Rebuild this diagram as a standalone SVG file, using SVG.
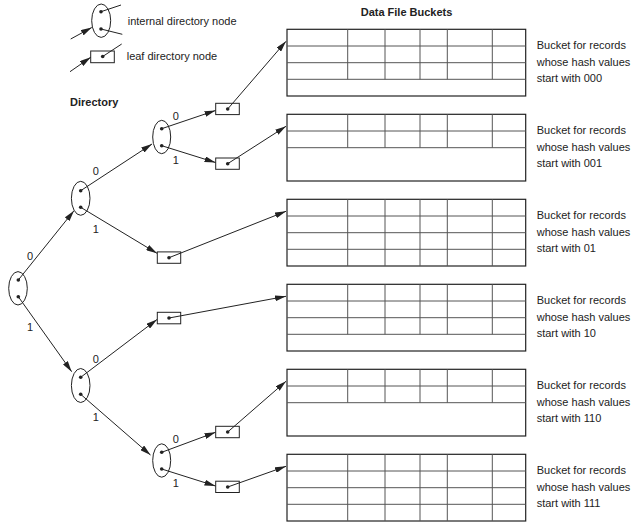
<svg xmlns="http://www.w3.org/2000/svg" width="636" height="526" viewBox="0 0 636 526">
<defs>
<style>
text{font-family:"Liberation Sans",Arial,sans-serif;font-size:11px;fill:#222}
.b{font-weight:bold}
.lbl{text-anchor:middle}
.node{fill:none;stroke:#222;stroke-width:1}
.dot{fill:#222}
.edge{stroke:#222;stroke-width:1;fill:none}
.arr{marker-end:url(#ah)}
.outer{fill:none;stroke:#222;stroke-width:1.2}
.grid{stroke:#555;stroke-width:1}
</style>
<marker id="ah" viewBox="0 0 11 6" refX="11" refY="3" markerWidth="11" markerHeight="6" markerUnits="userSpaceOnUse" orient="auto">
<path d="M0,0 L11,3 L0,6 z" fill="#222"/>
</marker>
</defs>
<rect width="636" height="526" fill="#fff"/>

<g id="legend-internal">
<ellipse class="node" cx="101.2" cy="20.7" rx="9.5" ry="16.7"/>
<circle class="dot" cx="101" cy="11.7" r="1.8"/>
<circle class="dot" cx="101" cy="29" r="1.8"/>
<line class="edge" x1="101" y1="11.7" x2="121" y2="5"/>
<line class="edge" x1="101" y1="29" x2="122.3" y2="34.3"/>
<line class="edge arr" x1="70.7" y1="39" x2="91.8" y2="27.5"/>
<text x="127.7" y="25">internal directory node</text>
</g>
<g id="legend-leaf">
<rect class="node" x="90.7" y="51" width="23.6" height="11.7"/>
<circle class="dot" cx="102.7" cy="56.5" r="1.8"/>
<line class="edge" x1="102.7" y1="56.5" x2="121.7" y2="44"/>
<line class="edge arr" x1="70" y1="71.7" x2="90.7" y2="57.3"/>
<text x="126.7" y="60">leaf directory node</text>
</g>

<text class="b" x="70" y="106">Directory</text>
<text class="b" x="360.7" y="16">Data File Buckets</text>

<g id="connectors">
<line class="edge arr" x1="18.3" y1="280" x2="74" y2="210.7"/>
<line class="edge arr" x1="18.3" y1="296.7" x2="71.7" y2="371.7"/>
<line class="edge arr" x1="80.7" y1="190.7" x2="152" y2="144"/>
<line class="edge arr" x1="80.7" y1="207.3" x2="157" y2="253.3"/>
<line class="edge arr" x1="80.7" y1="377.3" x2="157" y2="319.5"/>
<line class="edge arr" x1="80.7" y1="394.3" x2="150.5" y2="455"/>
<line class="edge arr" x1="161.7" y1="128.7" x2="215.5" y2="110.5"/>
<line class="edge arr" x1="161.7" y1="145.7" x2="215.5" y2="162.5"/>
<line class="edge arr" x1="161.7" y1="452.3" x2="215.5" y2="432.3"/>
<line class="edge arr" x1="161.7" y1="469" x2="215.5" y2="486"/>
<line class="edge arr" x1="227.7" y1="109" x2="286" y2="41.3"/>
<line class="edge arr" x1="227.7" y1="163.7" x2="286" y2="126.3"/>
<line class="edge arr" x1="169" y1="257.7" x2="286" y2="211.3"/>
<line class="edge arr" x1="169" y1="318" x2="286" y2="296.3"/>
<line class="edge arr" x1="227.7" y1="432" x2="286" y2="381.3"/>
<line class="edge arr" x1="227.7" y1="487" x2="286" y2="466.3"/>
</g>

<g id="edge-labels">
<text class="lbl" x="30" y="260">0</text>
<text class="lbl" x="30" y="331">1</text>
<text class="lbl" x="95.7" y="175">0</text>
<text class="lbl" x="95.7" y="232.5">1</text>
<text class="lbl" x="95.7" y="362.5">0</text>
<text class="lbl" x="95.7" y="421">1</text>
<text class="lbl" x="175.7" y="120">0</text>
<text class="lbl" x="175.7" y="163.5">1</text>
<text class="lbl" x="175.7" y="443">0</text>
<text class="lbl" x="175.7" y="486.5">1</text>
</g>

<g id="n-root">
<ellipse class="node" cx="18" cy="288.3" rx="9.3" ry="16.7"/>
<circle class="dot" cx="18.3" cy="280" r="1.8"/>
<circle class="dot" cx="18.3" cy="296.7" r="1.8"/>
</g>
<g id="n-0">
<ellipse class="node" cx="80.7" cy="198.3" rx="9.3" ry="17"/>
<circle class="dot" cx="80.7" cy="190.7" r="1.8"/>
<circle class="dot" cx="80.7" cy="207.3" r="1.8"/>
</g>
<g id="n-1">
<ellipse class="node" cx="80.7" cy="385.5" rx="9.3" ry="17"/>
<circle class="dot" cx="80.7" cy="377.3" r="1.8"/>
<circle class="dot" cx="80.7" cy="394.3" r="1.8"/>
</g>
<g id="n-00">
<ellipse class="node" cx="161.7" cy="137" rx="9" ry="16.7"/>
<circle class="dot" cx="161.7" cy="128.7" r="1.8"/>
<circle class="dot" cx="161.7" cy="145.7" r="1.8"/>
</g>
<g id="n-11">
<ellipse class="node" cx="161.7" cy="460.5" rx="9" ry="16.7"/>
<circle class="dot" cx="161.7" cy="452.3" r="1.8"/>
<circle class="dot" cx="161.7" cy="469" r="1.8"/>
</g>

<g id="leaf-000">
<rect class="node" x="215.7" y="103.3" width="23.6" height="11.3"/>
<circle class="dot" cx="227.7" cy="109" r="1.8"/>
</g>
<g id="leaf-001">
<rect class="node" x="215.7" y="158" width="23.6" height="11.3"/>
<circle class="dot" cx="227.7" cy="163.7" r="1.8"/>
</g>
<g id="leaf-01">
<rect class="node" x="157.3" y="251.9" width="23.4" height="11.4"/>
<circle class="dot" cx="169" cy="257.7" r="1.8"/>
</g>
<g id="leaf-10">
<rect class="node" x="157.3" y="312.3" width="23.4" height="11.5"/>
<circle class="dot" cx="169" cy="318" r="1.8"/>
</g>
<g id="leaf-110">
<rect class="node" x="215.7" y="426.3" width="23.6" height="11.4"/>
<circle class="dot" cx="227.7" cy="432" r="1.8"/>
</g>
<g id="leaf-111">
<rect class="node" x="215.7" y="481.2" width="23.6" height="11.3"/>
<circle class="dot" cx="227.7" cy="487" r="1.8"/>
</g>

<g id="bucket-000">
<rect class="outer" x="287" y="29.3" width="238.7" height="66.7"/>
<path class="grid" d="M287,46 H525.7 M287,62.7 H525.7 M287,79.3 H525.7 M347.7,29.3 V79.3 M385,29.3 V79.3 M420,29.3 V79.3 M447.3,29.3 V79.3 M492.3,29.3 V79.3"/>
<text x="536.7" y="49.3">Bucket for records</text>
<text x="536.7" y="65.5">whose hash values</text>
<text x="536.7" y="81.7">start with 000</text>
</g>
<g id="bucket-001">
<rect class="outer" x="287" y="114.3" width="238.7" height="66.7"/>
<path class="grid" d="M287,131 H525.7 M287,147.7 H525.7 M347.7,114.3 V147.7 M385,114.3 V147.7 M420,114.3 V147.7 M447.3,114.3 V147.7 M492.3,114.3 V147.7"/>
<text x="536.7" y="134.3">Bucket for records</text>
<text x="536.7" y="150.5">whose hash values</text>
<text x="536.7" y="166.7">start with 001</text>
</g>
<g id="bucket-01">
<rect class="outer" x="287" y="199.3" width="238.7" height="66.7"/>
<path class="grid" d="M287,216 H525.7 M287,232.7 H525.7 M287,249.3 H525.7 M347.7,199.3 V266 M385,199.3 V266 M420,199.3 V266 M447.3,199.3 V266 M492.3,199.3 V266"/>
<text x="536.7" y="219.3">Bucket for records</text>
<text x="536.7" y="235.5">whose hash values</text>
<text x="536.7" y="251.7">start with 01</text>
</g>
<g id="bucket-10">
<rect class="outer" x="287" y="284.3" width="238.7" height="66.7"/>
<path class="grid" d="M287,301 H525.7 M287,317.7 H525.7 M287,334.3 H525.7 M347.7,284.3 V334.3 M385,284.3 V334.3 M420,284.3 V334.3 M447.3,284.3 V334.3 M492.3,284.3 V334.3"/>
<text x="536.7" y="304.3">Bucket for records</text>
<text x="536.7" y="320.5">whose hash values</text>
<text x="536.7" y="336.7">start with 10</text>
</g>
<g id="bucket-110">
<rect class="outer" x="287" y="369.3" width="238.7" height="66.7"/>
<path class="grid" d="M287,386 H525.7 M287,402.7 H525.7 M347.7,369.3 V402.7 M385,369.3 V402.7 M420,369.3 V402.7 M447.3,369.3 V402.7 M492.3,369.3 V402.7"/>
<text x="536.7" y="389.3">Bucket for records</text>
<text x="536.7" y="405.5">whose hash values</text>
<text x="536.7" y="421.7">start with 110</text>
</g>
<g id="bucket-111">
<rect class="outer" x="287" y="454.3" width="238.7" height="66.7"/>
<path class="grid" d="M287,471 H525.7 M287,487.7 H525.7 M287,504.3 H525.7 M347.7,454.3 V521 M385,454.3 V521 M420,454.3 V521 M447.3,454.3 V521 M492.3,454.3 V521"/>
<text x="536.7" y="474.3">Bucket for records</text>
<text x="536.7" y="490.5">whose hash values</text>
<text x="536.7" y="506.7">start with 111</text>
</g>
</svg>
